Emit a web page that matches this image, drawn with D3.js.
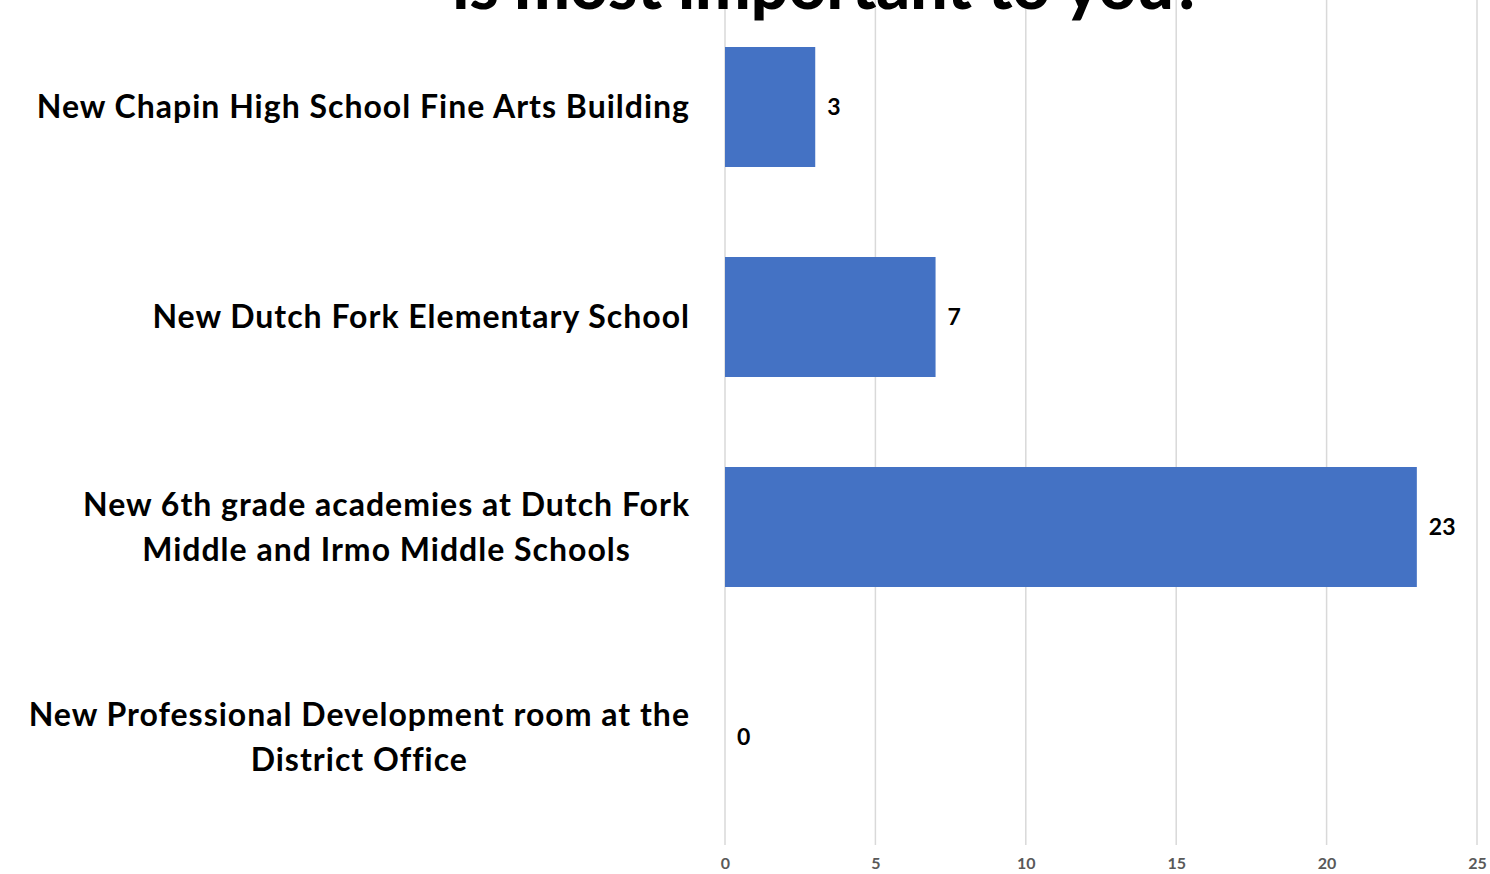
<!DOCTYPE html>
<html><head><meta charset="utf-8">
<script src="https://cdn.jsdelivr.net/npm/d3@7"></script>
<style>body{margin:0;background:#fff;} svg{display:block;}</style>
</head><body>
<svg id="c" width="1490" height="874"></svg>
<script>
const categories = [
  ["New Chapin High School Fine Arts Building"],
  ["New Dutch Fork Elementary School"],
  ["New 6th grade academies at Dutch Fork", "Middle and Irmo Middle Schools"],
  ["New Professional Development room at the", "District Office"]
];
const values = [3, 7, 23, 0];
const tickValues = [0, 5, 10, 15, 20, 25];
const titleText = "is most important to you?";

const svg = d3.select("#c");
const FONT = "Lato, 'Open Sans', sans-serif";
const x = d3.scaleLinear().domain([0, 25]).range([725, 1477]);
const y = d3.scaleBand().domain(d3.range(categories.length)).range([2, 842]).paddingInner(0.4286).paddingOuter(0.2143);

// gridlines
svg.append("g").selectAll("line").data(tickValues).join("line")
  .attr("x1", d => x(d)).attr("x2", d => x(d))
  .attr("y1", 0).attr("y2", 845)
  .attr("stroke", "#d9d9d9").attr("stroke-width", 1.5);

// axis labels
const ax = svg.append("g").attr("transform", "translate(0,845)")
  .call(d3.axisBottom(x).tickValues(tickValues).tickSize(0).tickPadding(13));
ax.select(".domain").remove();
ax.selectAll("text").attr("font-family", FONT).attr("font-size", 16).attr("font-weight", 700).attr("fill", "#595959");

// title (top part lies above the page, as in the reference)
svg.append("text").attr("x", 828).attr("y", 9).attr("text-anchor", "middle")
  .attr("font-family", FONT).attr("font-weight", 900).attr("font-size", 66).attr("fill", "#000")
  .text(titleText);

// bars
svg.append("g").selectAll("rect").data(values).join("rect")
  .attr("x", x(0)).attr("y", (d, i) => y(i))
  .attr("width", d => x(d) - x(0)).attr("height", y.bandwidth())
  .attr("fill", "#4472c4");

// value labels
svg.append("g").selectAll("text").data(values).join("text")
  .attr("x", d => x(d) + 12).attr("y", (d, i) => y(i) + y.bandwidth() / 2)
  .attr("dy", "0.35em")
  .attr("font-family", FONT).attr("font-size", 23).attr("font-weight", 700).attr("fill", "#000")
  .text(d => d);

// category labels
const labelRight = 690, lineH = 45, catSize = 32;
categories.forEach((lines, i) => {
  const cy = y(i) + y.bandwidth() / 2;
  const g = svg.append("g");
  const ts = lines.map((t, j) => g.append("text")
    .attr("y", cy + (j - (lines.length - 1) / 2) * lineH)
    .attr("dy", "0.35em")
    .attr("font-family", FONT).attr("font-size", catSize).attr("font-weight", 700).attr("fill", "#000")
    .attr("letter-spacing", "1px")
    .attr("text-anchor", "middle").text(t));
  const w = d3.max(ts, t => t.node().getComputedTextLength());
  ts.forEach(t => t.attr("x", labelRight - w / 2));
});
</script>
</body></html>
